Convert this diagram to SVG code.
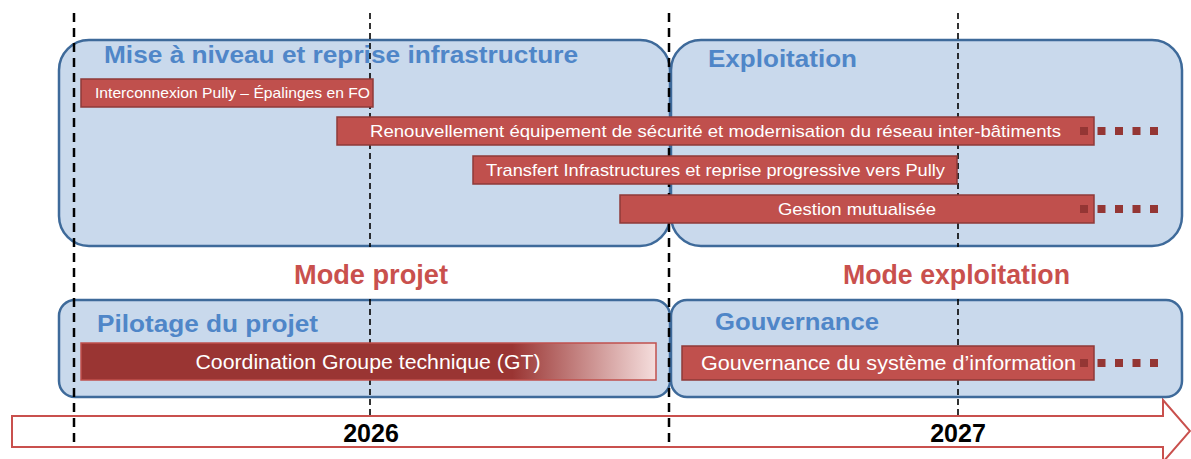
<svg xmlns="http://www.w3.org/2000/svg" width="1191" height="459" viewBox="0 0 1191 459">
<defs>
<style>
.box{fill:#C9D9EC;stroke:#3E6A9A;stroke-width:2.5}
.ttl{font-family:"Liberation Sans",Arial,sans-serif;font-weight:bold;fill:#4F86C8;font-size:24px}
.mode{font-family:"Liberation Sans",Arial,sans-serif;font-weight:bold;fill:#C9504D;font-size:27px}
.bar{fill:#C0504D;stroke:#8E3A38;stroke-width:1.5}
.bt{font-family:"Liberation Sans",Arial,sans-serif;fill:#FFFFFF}
.yr{font-family:"Liberation Sans",Arial,sans-serif;font-weight:bold;fill:#000;font-size:25px;text-anchor:middle}
.dthick{stroke:#000;stroke-width:2.5;stroke-dasharray:9 6;fill:none}
.dthin{stroke:#000;stroke-width:1.6;stroke-dasharray:6 4;fill:none}
.dot{fill:#943634}
</style>
<linearGradient id="gt" x1="0" y1="0" x2="1" y2="0">
<stop offset="0" stop-color="#9A3533"/>
<stop offset="0.75" stop-color="#9A3533"/>
<stop offset="1" stop-color="#F5DEDD"/>
</linearGradient>
<g id="dots">
<rect class="dot" x="0" y="-4" width="8" height="8"/>
<rect class="dot" x="17.5" y="-4" width="8" height="8"/>
<rect class="dot" x="35" y="-4" width="8" height="8"/>
<rect class="dot" x="52.5" y="-4" width="8" height="8"/>
<rect class="dot" x="70" y="-4" width="8" height="8"/>
</g>
</defs>
<rect width="1191" height="459" fill="#FFFFFF"/>

<g id="timeline">
<polygon points="12,416 1163,416 1163,400 1190,431 1163,462 1163,447 12,447" fill="#FFFFFF" stroke="#C9504D" stroke-width="2"/>
<text class="yr" x="371" y="442">2026</text>
<text class="yr" x="958" y="442">2027</text>
</g>

<g id="box-infra">
<rect class="box" x="59" y="40" width="611" height="206" rx="30"/>
<text class="ttl" x="104" y="63" textLength="474" lengthAdjust="spacingAndGlyphs">Mise à niveau et reprise infrastructure</text>
</g>
<g id="box-exploitation">
<rect class="box" x="671" y="40" width="511" height="206" rx="30"/>
<text class="ttl" x="708" y="67" textLength="149" lengthAdjust="spacingAndGlyphs">Exploitation</text>
</g>
<g id="box-pilotage">
<rect class="box" x="59" y="300" width="611" height="97" rx="16"/>
<text class="ttl" x="97" y="332" textLength="221" lengthAdjust="spacingAndGlyphs">Pilotage du projet</text>
</g>
<g id="box-gouvernance">
<rect class="box" x="671" y="300" width="511" height="97" rx="16"/>
<text class="ttl" x="715" y="330" textLength="164" lengthAdjust="spacingAndGlyphs">Gouvernance</text>
</g>

<g id="mode-labels">
<text class="mode" x="294" y="284" textLength="154" lengthAdjust="spacingAndGlyphs">Mode projet</text>
<text class="mode" x="843" y="284" textLength="227" lengthAdjust="spacingAndGlyphs">Mode exploitation</text>
</g>

<g id="connectors">
<line class="dthick" x1="74" y1="13" x2="74" y2="446"/>
<line class="dthin" x1="370" y1="13" x2="370" y2="247"/>
<line class="dthin" x1="370" y1="299" x2="370" y2="416"/>
<line class="dthick" x1="669" y1="13" x2="669" y2="446"/>
<line class="dthin" x1="958" y1="13" x2="958" y2="247"/>
<line class="dthin" x1="958" y1="299" x2="958" y2="416"/>
</g>

<g id="bar-interconnexion">
<rect class="bar" x="81" y="79" width="292" height="28"/>
<text class="bt" x="95" y="98" font-size="15" textLength="275" lengthAdjust="spacingAndGlyphs">Interconnexion Pully – Épalinges en FO</text>
</g>
<g id="bar-renouvellement">
<rect class="bar" x="337" y="117" width="757" height="28"/>
<use href="#dots" x="1080" y="131"/>
<text class="bt" x="370" y="137" font-size="17" textLength="691" lengthAdjust="spacingAndGlyphs">Renouvellement équipement de sécurité et modernisation du réseau inter-bâtiments</text>
</g>
<g id="bar-transfert">
<rect class="bar" x="473" y="156" width="484" height="28"/>
<text class="bt" x="486" y="176" font-size="17" textLength="459" lengthAdjust="spacingAndGlyphs">Transfert Infrastructures et reprise progressive vers Pully</text>
</g>
<g id="bar-gestion">
<rect class="bar" x="620" y="195" width="474" height="28"/>
<use href="#dots" x="1080" y="209"/>
<text class="bt" x="857" y="215" font-size="17" text-anchor="middle" textLength="158" lengthAdjust="spacingAndGlyphs">Gestion mutualisée</text>
</g>
<g id="bar-coordination">
<rect x="81" y="343" width="575" height="37" fill="url(#gt)" stroke="#C0504D" stroke-width="1.5"/>
<text class="bt" x="368" y="369" font-size="20" text-anchor="middle" textLength="345" lengthAdjust="spacingAndGlyphs">Coordination Groupe technique (GT)</text>
</g>
<g id="bar-gouvernance-si">
<rect class="bar" x="682" y="346" width="412" height="34"/>
<use href="#dots" x="1080" y="363"/>
<text class="bt" x="701" y="370" font-size="20" textLength="375" lengthAdjust="spacingAndGlyphs">Gouvernance du système d’information</text>
</g>
</svg>
